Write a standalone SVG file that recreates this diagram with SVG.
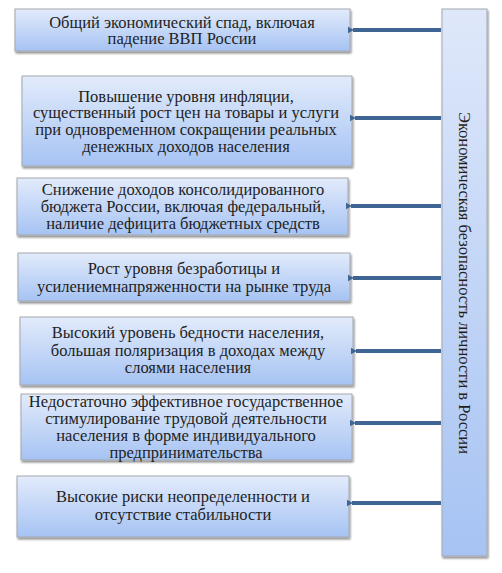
<svg xmlns="http://www.w3.org/2000/svg" width="502" height="573" viewBox="0 0 502 573">
<defs>
<linearGradient id="g" x1="0" y1="0" x2="0" y2="1">
<stop offset="0" stop-color="#e2ebfb"/>
<stop offset="1" stop-color="#a6c3f3"/>
</linearGradient>
<linearGradient id="gv" x1="0" y1="0" x2="0" y2="1">
<stop offset="0" stop-color="#dfe8fa"/>
<stop offset="1" stop-color="#a6c3f3"/>
</linearGradient>
<filter id="sh" x="-5%" y="-10%" width="110%" height="130%">
<feGaussianBlur in="SourceAlpha" stdDeviation="1.2"/>
<feOffset dx="1" dy="2" result="b"/>
<feComponentTransfer><feFuncA type="linear" slope="0.45"/></feComponentTransfer>
<feMerge><feMergeNode/><feMergeNode in="SourceGraphic"/></feMerge>
</filter>
<marker id="ah" markerWidth="8" markerHeight="8" refX="1" refY="4" orient="auto" markerUnits="userSpaceOnUse">
<path d="M6,0.8 L0,4 L6,7.2 Z" fill="#3e6594"/>
</marker>
</defs>
<style>
.box{fill:url(#g);stroke:#a3a8b0;stroke-width:1;filter:url(#sh)}
.t{font-family:"Liberation Serif","Times New Roman",serif;font-size:16.5px;fill:#1e1e1e;text-anchor:middle}
.c{stroke:#3e6594;stroke-width:4;fill:none;marker-end:url(#ah)}
</style>
<g id="main">
<rect x="442" y="9" width="45" height="547" fill="url(#gv)" stroke="#a3a8b0" filter="url(#sh)"/>
<text class="t" transform="translate(459,283) rotate(90)">Экономическая безопасность личности в России</text>
</g>
<g id="n1">
<rect class="box" x="15" y="9" width="335" height="42"/>
<text class="t"><tspan x="182" y="28">Общий экономический спад, включая</tspan><tspan x="182" y="44">падение ВВП России</tspan></text>
</g>
<g id="n2">
<rect class="box" x="22" y="76" width="330" height="90"/>
<text class="t"><tspan x="186" y="102">Повышение уровня инфляции,</tspan><tspan x="186" y="118">существенный рост цен на товары и услуги</tspan><tspan x="186" y="135">при одновременном сокращении реальных</tspan><tspan x="186" y="152">денежных доходов населения</tspan></text>
</g>
<g id="n3">
<rect class="box" x="17" y="178" width="331" height="57"/>
<text class="t"><tspan x="183" y="195">Снижение доходов консолидированного</tspan><tspan x="183" y="212">бюджета России, включая федеральный,</tspan><tspan x="183" y="229">наличие дефицита бюджетных средств</tspan></text>
</g>
<g id="n4">
<rect class="box" x="18" y="253" width="332" height="48"/>
<text class="t"><tspan x="184" y="274">Рост уровня безработицы и</tspan><tspan x="184" y="292">усилениемнапряженности на рынке труда</tspan></text>
</g>
<g id="n5">
<rect class="box" x="20" y="317" width="333" height="68"/>
<text class="t"><tspan x="188" y="338">Высокий уровень бедности населения,</tspan><tspan x="188" y="356">большая поляризация в доходах между</tspan><tspan x="188" y="373">слоями населения</tspan></text>
</g>
<g id="n6">
<rect class="box" x="21" y="394" width="331" height="66"/>
<text class="t"><tspan x="186" y="407">Недостаточно эффективное государственное</tspan><tspan x="186" y="424">стимулирование трудовой деятельности</tspan><tspan x="186" y="441">населения в форме индивидуального</tspan><tspan x="186" y="458">предпринимательства</tspan></text>
</g>
<g id="n7">
<rect class="box" x="17" y="476" width="332" height="61"/>
<text class="t"><tspan x="183" y="502">Высокие риски неопределенности и</tspan><tspan x="183" y="520">отсутствие стабильности</tspan></text>
</g>
<g id="connectors">
<line class="c" x1="441" y1="30" x2="353" y2="30"/>
<line class="c" x1="441" y1="118" x2="355" y2="118"/>
<line class="c" x1="441" y1="206" x2="351" y2="206"/>
<line class="c" x1="441" y1="278" x2="353" y2="278"/>
<line class="c" x1="441" y1="351" x2="356" y2="351"/>
<line class="c" x1="441" y1="423" x2="355" y2="423"/>
<line class="c" x1="441" y1="503" x2="352" y2="503"/>
</g>
</svg>
